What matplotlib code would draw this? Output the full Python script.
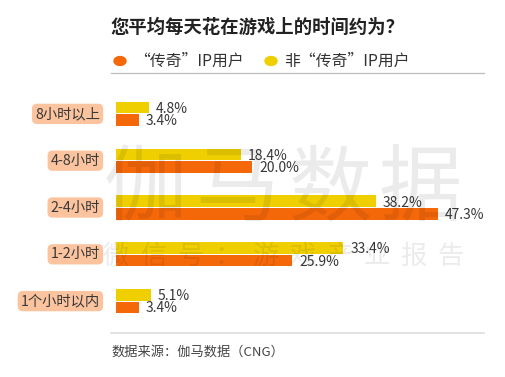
import matplotlib
matplotlib.use("Agg")
import matplotlib.pyplot as plt
from matplotlib.patches import Circle
from matplotlib.lines import Line2D

plt.rcParams['font.family'] = ['Noto Sans CJK SC', 'DejaVu Sans']

categories = ["8小时以上", "4-8小时", "2-4小时", "1-2小时", "1个小时以内"]
legend_ip = [3.4, 20.0, 47.3, 25.9, 3.4]       # “传奇”IP用户
non_ip = [4.8, 18.4, 38.2, 33.4, 5.1]           # 非“传奇”IP用户
series_names = ["“传奇”IP用户", "非“传奇”IP用户"]
title = "您平均每天花在游戏上的时间约为？"
source = "数据来源：伽马数据（CNG）"

ORANGE = "#F5680A"
YELLOW = "#EFCF00"
LABEL_BG = "#FBC49F"
W, H = 506, 377

fig = plt.figure(figsize=(W / 100, H / 100), dpi=100)

def fx(px):
    return px / W

def fy(py):
    return 1 - py / H

# axes in pixel coords
ax_l, ax_r, ax_t, ax_b = 116, 484, 90, 325
ax = fig.add_axes([fx(ax_l), fy(ax_b), fx(ax_r - ax_l), (ax_b - ax_t) / H])
ax.set_xlim(0, (ax_r - ax_l) / 6.81)
ax.set_ylim(4.51, -0.51)
ax.axis('off')

y = list(range(len(categories)))
bh = 0.25
off = 0.135
ax.barh([v - off for v in y], non_ip, height=bh, color=YELLOW, zorder=2)
ax.barh([v + off for v in y], legend_ip, height=bh, color=ORANGE, zorder=2)

for i in y:
    ax.annotate(f"{non_ip[i]:.1f}%", (non_ip[i], i - off + 0.03), xytext=(5, 0),
                textcoords='offset points', va='center', ha='left', fontsize=10, color="#383838")
    ax.annotate(f"{legend_ip[i]:.1f}%", (legend_ip[i], i + off + 0.02), xytext=(5, 0),
                textcoords='offset points', va='center', ha='left', fontsize=10, color="#383838")
    ax.annotate(categories[i], (fx(100), i), xycoords=('figure fraction', 'data'),
                ha='right', va='center', fontsize=10.3, color="#383838",
                bbox=dict(boxstyle='round,pad=0.22,rounding_size=0.35', fc=LABEL_BG, ec='none'))

# title
fig.text(fx(111), fy(27), title, fontsize=13.2, fontweight='bold', color='#222222', va='center', ha='left')

# legend
fig.patches.append(Circle((fx(120), fy(61)), radius=6 / W, transform=fig.transFigure,
                          color=ORANGE))
fig.text(fx(134), fy(61), series_names[0], fontsize=11.4, color='#333333', va='center', ha='left')
fig.patches.append(Circle((fx(271), fy(61)), radius=6 / W, transform=fig.transFigure,
                          color=YELLOW))
fig.text(fx(284), fy(61), series_names[1], fontsize=11.4, color='#333333', va='center', ha='left')

# separators
fig.add_artist(Line2D([fx(111), fx(484)], [fy(73), fy(73)], color='#BBBBBB', lw=0.9,
                      transform=fig.transFigure))
fig.add_artist(Line2D([fx(111), fx(484)], [fy(333), fy(333)], color='#DDDDDD', lw=1.2,
                      transform=fig.transFigure))

# source
fig.text(fx(111), fy(352), source, fontsize=9.5, color='#444444', va='center', ha='left')

# watermark
for ch, cx in zip("伽马数据", [145, 237, 330, 420]):
    fig.text(fx(cx), fy(190), ch, fontsize=60, color='#000000', alpha=0.08,
             ha='center', va='center', zorder=10)
for k, ch in enumerate("微信号：游戏产业报告"):
    fig.text(fx(116 + k * 37.2), fy(256), ch, fontsize=19, color='#000000', alpha=0.08,
             ha='center', va='center', zorder=10)

fig.savefig("out.png", dpi=100)
